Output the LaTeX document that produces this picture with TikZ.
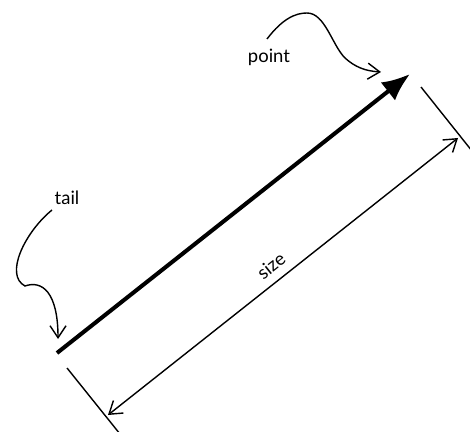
\documentclass[tikz,border=0pt]{standalone}
\usepackage{fontspec}
\setmainfont{Lato}
\usetikzlibrary{arrows.meta}

\begin{document}
\begin{tikzpicture}[x=0.02cm, y=-0.02cm,
        vec/.style={line width=2.3pt, -{Latex[length=5.6mm, width=4.6mm]}},
        thin line/.style={line width=0.8pt},
        dim/.style={thin line, {Straight Barb[length=2.4mm, width=3.2mm]}-{Straight Barb[length=2.4mm, width=3.2mm]}},
        callout/.style={thin line, -{Straight Barb[length=2.4mm, width=3.2mm]}},
        lbl/.style={font=\fontsize{10.5}{12}\selectfont, inner sep=1pt}]
        \useasboundingbox (0,0) rectangle (470,432);

        % ==== VECTOR ====
        \coordinate (tailpt) at (57,353);
        \coordinate (headpt) at (410,74);
        \draw[vec] (tailpt) -- (headpt);

        % ==== EXTENSION LINES ====
        \coordinate (extAa) at (67,368);
        \coordinate (extAb) at (120,434);
        \coordinate (extBa) at (421,87);
        \coordinate (extBb) at (472,151);
        \draw[thin line] (extAa) -- (extAb);
        \draw[thin line] (extBa) -- (extBb);

        % ==== SIZE ====
        \coordinate (dimA) at (108,415);
        \coordinate (dimB) at (458,138);
        \draw[dim] (dimA) -- (dimB);
        \node[lbl, rotate=38.4] (size) at (271,266) {size};

        % === LABELS ===
        \node[lbl] (tail) at (67,198) {tail};
        \node[lbl] (point) at (269,57) {point};
        \coordinate (tailtip) at (58,339);
        \coordinate (pointtip) at (381,72);
        \draw[callout] (52,210) .. controls (25,232) and (4,275) .. (25,286)
            .. controls (42,280) and (58,292) .. (tailtip);
        \draw[callout] (267,39) .. controls (283,18) and (296,13) .. (307,13)
            .. controls (325,13) and (332,45) .. (345,58)
            .. controls (355,67) and (365,71) .. (pointtip);

\end{tikzpicture}
\end{document}
